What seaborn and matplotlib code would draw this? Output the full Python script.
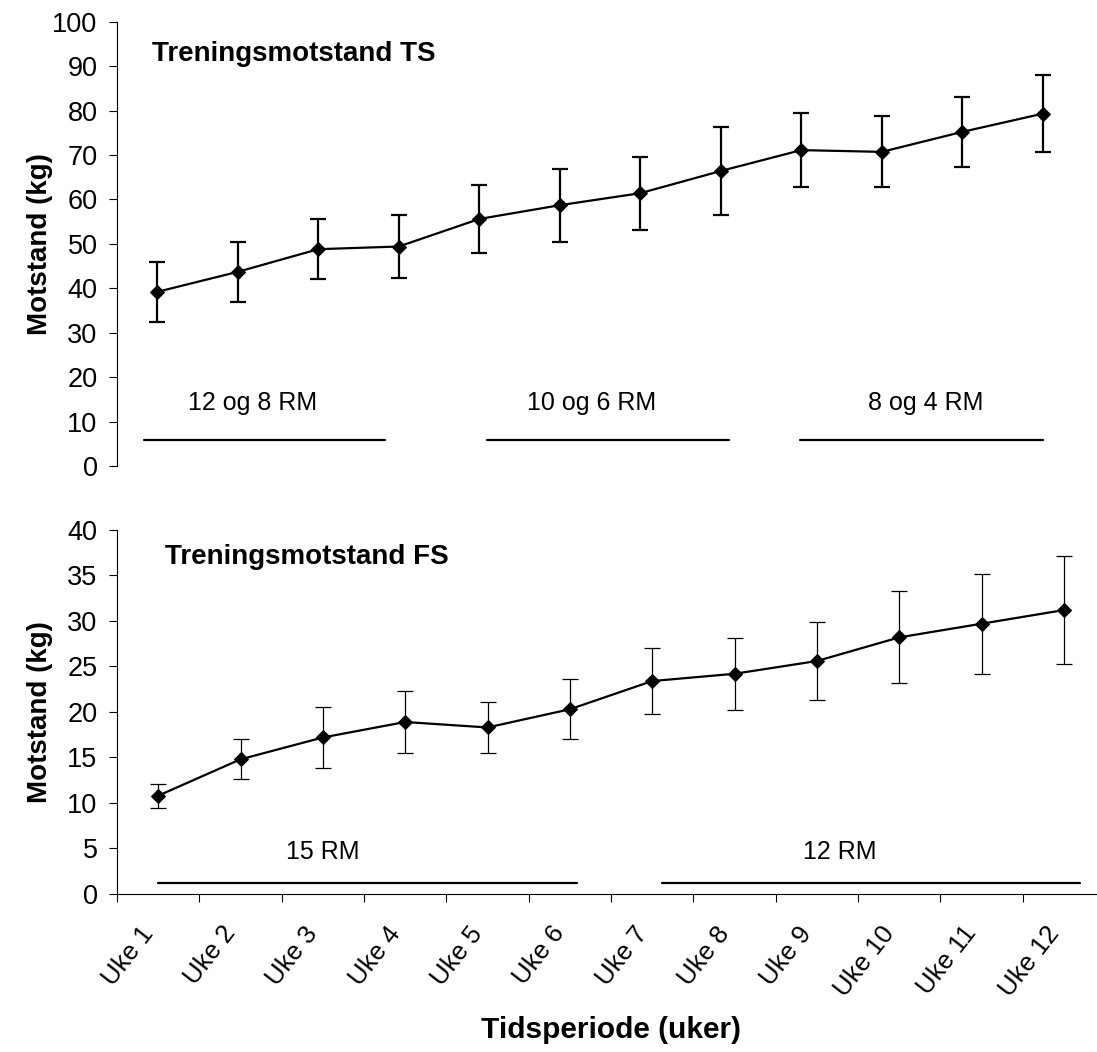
import numpy as np
import pandas as pd
import matplotlib
matplotlib.use('Agg')
import matplotlib.pyplot as plt
import seaborn as sns

sns.set_theme(style='white')
plt.rcParams['font.family'] = ['Liberation Sans', 'DejaVu Sans']
plt.rcParams['text.color'] = 'black'
plt.rcParams['axes.labelcolor'] = 'black'
plt.rcParams['xtick.color'] = 'black'
plt.rcParams['ytick.color'] = 'black'

# data
weeks = ['Uke 1', 'Uke 2', 'Uke 3', 'Uke 4', 'Uke 5', 'Uke 6',
         'Uke 7', 'Uke 8', 'Uke 9', 'Uke 10', 'Uke 11', 'Uke 12']
ts_mean = [39.2, 43.7, 48.8, 49.4, 55.6, 58.7, 61.4, 66.4, 71.1, 70.7, 75.2, 79.3]
ts_sd = [6.7, 6.7, 6.7, 7.1, 7.6, 8.2, 8.2, 9.8, 8.4, 8.0, 7.8, 8.6]
fs_mean = [10.8, 14.8, 17.2, 18.9, 18.3, 20.3, 23.4, 24.2, 25.6, 28.2, 29.7, 31.2]
fs_sd = [1.3, 2.2, 3.3, 3.4, 2.85, 3.3, 3.65, 3.95, 4.3, 5.05, 5.5, 5.9]

# training phases: label, line start, line end, label centre (in week units)
ts_phases = [('12 og 8 RM', -0.17, 2.83, 1.19),
             ('10 og 6 RM', 4.10, 7.10, 5.40),
             ('8 og 4 RM', 7.98, 11.0, 9.54)]
fs_phases = [('15 RM', 0.0, 5.09, 2.0),
             ('12 RM', 6.12, 11.2, 8.28)]

df = pd.DataFrame({'week': weeks, 'pos': np.arange(len(weeks)),
                   'ts': ts_mean, 'ts_sd': ts_sd, 'fs': fs_mean, 'fs_sd': fs_sd})

fig = plt.figure(figsize=(10.97, 10.52), dpi=100)
ax1 = fig.add_axes([0.10666, 0.55703, 0.88058, 0.42234])
ax2 = fig.add_axes([0.10666, 0.15019, 0.90064, 0.34601])

# --- top panel: TS
ax1.errorbar(df['pos'], df['ts'], yerr=df['ts_sd'], fmt='none', ecolor='black',
             elinewidth=1.6, capsize=5.5, capthick=1.6, zorder=2)
sns.lineplot(data=df, x='pos', y='ts', ax=ax1, color='black', linewidth=1.6,
             marker='D', markersize=7, markeredgecolor='black', zorder=3)
ax1.set_xlim(-0.5, 11.5)
ax1.set_ylim(0, 100)
ax1.set_yticks(range(0, 101, 10))
ax1.set_xticks([])
ax1.set_xlabel('')
for s in ['top', 'right', 'bottom']:
    ax1.spines[s].set_visible(False)
ax1.text(-0.07, 92.7, 'Treningsmotstand TS', fontsize=20, fontweight='bold',
         ha='left', va='center')
for lab, a, b, c in ts_phases:
    ax1.plot([a, b], [5.9, 5.9], color='black', linewidth=1.6)
    ax1.text(c, 14.2, lab, fontsize=18, ha='center', va='center')

# --- bottom panel: FS
ax2.errorbar(df['pos'], df['fs'], yerr=df['fs_sd'], fmt='none', ecolor='black',
             elinewidth=0.9, capsize=5.5, capthick=0.9, zorder=2)
sns.lineplot(data=df, x='pos', y='fs', ax=ax2, color='black', linewidth=1.6,
             marker='D', markersize=7, markeredgecolor='black', zorder=3)
ax2.set_xlim(-0.5, 11.5)
ax2.set_ylim(0, 40)
ax2.set_yticks(range(0, 41, 5))
for s in ['top', 'right']:
    ax2.spines[s].set_visible(False)
ax2.text(0.085, 37.0, 'Treningsmotstand FS', fontsize=20, fontweight='bold',
         ha='left', va='center')
for lab, a, b, c in fs_phases:
    ax2.plot([a, b], [1.17, 1.17], color='black', linewidth=1.6)
    ax2.text(c, 4.66, lab, fontsize=18, ha='center', va='center')

# category axis: ticks between weeks, labels at the weeks
ax2.set_xticks(np.arange(-0.5, 12, 1))
ax2.set_xticklabels([])
ax2.set_xticks(df['pos'], labels=weeks, minor=True)
ax2.tick_params(axis='x', which='major', direction='out', length=6, width=0.8,
                color='black', bottom=True)
ax2.tick_params(axis='x', which='minor', length=0, pad=20, labelsize=18.5,
                labelrotation=52)
plt.setp(ax2.get_xticklabels(minor=True), ha='right', va='top')

for ax in [ax1, ax2]:
    ax.tick_params(axis='y', direction='out', length=6, width=0.8, color='black',
                   left=True, labelsize=19.5, pad=8)
    for s in ['left', 'bottom']:
        ax.spines[s].set_color('black')
        ax.spines[s].set_linewidth(0.8)
    ax.set_ylabel('Motstand (kg)', fontsize=20, fontweight='bold')
    ax.yaxis.label.set_va('center')
ax1.yaxis.set_label_coords(-0.0797, 0.5)
ax2.yaxis.set_label_coords(-0.078, 0.5)

ax2.set_xlabel('Tidsperiode (uker)', fontsize=21.5, fontweight='bold')
ax2.xaxis.label.set_va('center')
ax2.xaxis.set_label_coords(0.5, -0.374)

fig.savefig('out.png', dpi=100, facecolor='white')
